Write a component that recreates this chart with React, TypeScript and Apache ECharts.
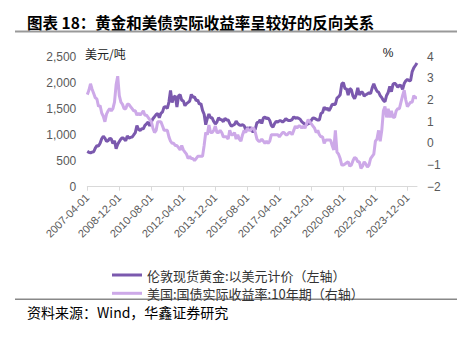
import React, { useEffect, useRef } from "react";
import * as echarts from "echarts";

// Monthly, 2007-04 … 2024-06
const startYear = 2007;
const startMonth = 4;

// 伦敦现货黄金:以美元计价 (USD/oz)
const goldPrice = [
  680, 660, 650, 665, 672, 743, 789, 783, 834,
  923, 971, 934, 871, 886, 930, 918, 833, 884, 730, 815, 869,
  919, 943, 917, 884, 975, 934, 949, 955, 996, 1040, 1176, 1104,
  1081, 1116, 1113, 1180, 1207, 1244, 1169, 1246, 1307, 1346, 1386, 1405,
  1327, 1411, 1439, 1535, 1536, 1505, 1628, 1850, 1620, 1722, 1746, 1531,
  1744, 1770, 1662, 1651, 1558, 1598, 1622, 1648, 1776, 1720, 1726, 1657,
  1664, 1588, 1598, 1469, 1394, 1192, 1314, 1396, 1326, 1324, 1253, 1205,
  1244, 1326, 1291, 1288, 1250, 1315, 1285, 1285, 1216, 1164, 1182, 1199,
  1260, 1214, 1187, 1180, 1191, 1172, 1098, 1135, 1115, 1142, 1061, 1060,
  1111, 1234, 1237, 1285, 1215, 1320, 1342, 1309, 1322, 1272, 1178, 1146,
  1212, 1255, 1244, 1266, 1266, 1243, 1268, 1311, 1283, 1271, 1275, 1291,
  1345, 1318, 1325, 1316, 1298, 1250, 1224, 1201, 1187, 1215, 1221, 1279,
  1321, 1316, 1295, 1283, 1283, 1409, 1427, 1528, 1485, 1511, 1463, 1515,
  1582, 1586, 1583, 1702, 1730, 1768, 1975, 2000, 1887, 1879, 1762, 1888,
  1863, 1743, 1691, 1768, 1903, 1763, 1814, 1814, 1743, 1769, 1785, 1806,
  1788, 1900, 1980, 1897, 1837, 1817, 1753, 1711, 1660, 1634, 1754, 1812,
  1928, 1827, 1969, 1990, 1962, 1912, 1951, 1942, 1871, 1983, 2036, 2062,
  2039, 2044, 2214, 2286, 2331, 2380,
];

// 美国:国债实际收益率:10年期 (%)
const realYield = [
  2.25, 2.45, 2.75, 2.5, 2.3, 2.1, 2.05, 1.7, 1.75,
  1.4, 1.25, 1.0, 1.35, 1.5, 1.6, 1.5, 1.6, 1.9, 2.7, 3.1, 2.2,
  1.9, 1.8, 1.6, 1.6, 1.8, 1.8, 1.7, 1.6, 1.5, 1.5, 1.3, 1.4,
  1.3, 1.4, 1.5, 1.3, 1.3, 1.2, 1.1, 1.0, 0.7, 0.5, 0.6, 1.0,
  1.0, 1.0, 0.8, 0.6, 0.6, 0.6, 0.3, 0.1, 0.0, 0.0, -0.1, -0.1,
  -0.2, -0.3, -0.1, -0.3, -0.4, -0.5, -0.7, -0.6, -0.7, -0.7, -0.8, -0.7,
  -0.6, -0.6, -0.6, -0.6, -0.1, 0.5, 0.4, 0.85, 0.5, 0.5, 0.6, 0.8,
  0.5, 0.5, 0.6, 0.5, 0.3, 0.3, 0.3, 0.2, 0.6, 0.4, 0.4, 0.5,
  0.2, 0.4, 0.2, 0.1, 0.4, 0.6, 0.5, 0.7, 0.6, 0.6, 0.7, 0.7,
  0.5, 0.2, 0.1, 0.1, 0.2, 0.1, 0.0, 0.1, 0.0, 0.1, 0.4, 0.4,
  0.4, 0.4, 0.4, 0.3, 0.4, 0.5, 0.5, 0.4, 0.4, 0.5, 0.5, 0.4,
  0.6, 0.8, 0.7, 0.8, 0.8, 0.7, 0.8, 0.7, 0.9, 1.1, 1.0, 0.9,
  0.8, 0.7, 0.5, 0.6, 0.4, 0.3, 0.3, 0.0, 0.15, 0.15, 0.15, 0.15,
  -0.1, -0.3, 0.6, -0.4, -0.5, -0.7, -1.0, -1.0, -0.95, -0.9, -0.85, -1.05,
  -1.0, -0.8, -0.65, -0.7, -0.85, -0.85, -1.15, -1.05, -0.85, -0.95, -1.1, -1.0,
  -0.7, -0.6, -0.5, 0.1, 0.2, 0.6, 0.1, 0.6, 1.5, 1.7, 1.2, 1.6,
  1.2, 1.5, 1.2, 1.2, 1.5, 1.6, 1.6, 1.9, 2.2, 2.45, 2.0, 1.7,
  1.8, 1.9, 1.9, 2.2, 2.1, 2.1,
];

const categories: string[] = [];
for (let i = 0; i < goldPrice.length; i++) {
  const m = startMonth - 1 + i;
  const y = startYear + Math.floor(m / 12);
  const mm = (m % 12) + 1;
  categories.push(`${y}-${mm < 10 ? "0" + mm : mm}-01`);
}

const seriesNames = ["伦敦现货黄金:以美元计价（左轴）", "美国:国债实际收益率:10年期（右轴）"];
const titleText = "图表 18：黄金和美债实际收益率呈较好的反向关系";
const sourceText = "资料来源：Wind，华鑫证券研究";
const leftUnit = "美元/吨";
const rightUnit = "%";

const DARK = "#7B59AE";
const LIGHT = "#CDA9E8";
const CJK = "'Noto Sans CJK SC', sans-serif";
const LATIN = "'Liberation Sans', Arial, sans-serif";

const legendBase = {
  orient: "vertical",
  left: 112,
  padding: 0,
  itemWidth: 30,
  itemHeight: 3,
  icon: "rect",
  textStyle: { color: "#333", fontSize: 13, lineHeight: 14, fontFamily: CJK },
};

export default function App() {
  const ref = useRef<HTMLDivElement>(null);
  useEffect(() => {
    if (!ref.current) return;
    const chart = echarts.init(ref.current, undefined, { renderer: "svg" });
    chart.setOption({
      animation: false,
      backgroundColor: "#ffffff",
      grid: { left: 87.3, right: 40, top: 56.7, bottom: 150.3, containLabel: false },
      xAxis: {
        type: "category",
        data: categories,
        boundaryGap: false,
        axisLine: { show: true, lineStyle: { color: "#D9D9D9", width: 1 } },
        axisTick: { show: true, interval: 19, length: 4, lineStyle: { color: "#D9D9D9" } },
        axisLabel: {
          interval: 19,
          rotate: 45,
          margin: 9,
          color: "#595959",
          fontSize: 11,
          fontFamily: LATIN,
        },
        splitLine: { show: false },
      },
      yAxis: [
        {
          type: "value",
          min: 0,
          max: 2500,
          interval: 500,
          axisLine: { show: false },
          axisTick: { show: false },
          splitLine: { show: false },
          axisLabel: {
            margin: 11,
            color: "#595959",
            fontSize: 12,
            fontFamily: LATIN,
            formatter: (v: number) => v.toLocaleString("en-US"),
          },
        },
        {
          type: "value",
          min: -2,
          max: 4,
          interval: 1,
          position: "right",
          axisLine: { show: false },
          axisTick: { show: false },
          splitLine: { show: false },
          axisLabel: {
            margin: 10,
            color: "#595959",
            fontSize: 12,
            fontFamily: LATIN,
            formatter: (v: number) => String(v).replace("-", "−"),
          },
        },
      ],
      legend: [
        { ...legendBase, top: 268, data: [seriesNames[0]] },
        { ...legendBase, top: 286.3, data: [seriesNames[1]] },
      ],
      series: [
        {
          name: seriesNames[0],
          type: "line",
          yAxisIndex: 0,
          data: goldPrice,
          showSymbol: false,
          symbol: "none",
          lineStyle: { color: DARK, width: 3 },
          itemStyle: { color: DARK },
        },
        {
          name: seriesNames[1],
          type: "line",
          yAxisIndex: 1,
          data: realYield,
          showSymbol: false,
          symbol: "none",
          lineStyle: { color: LIGHT, width: 3 },
          itemStyle: { color: LIGHT },
        },
      ],
      graphic: [
        {
          type: "text",
          x: 27,
          y: 21.5,
          style: {
            text: titleText,
            fontSize: 15.5,
            fontWeight: "bold",
            fontFamily: CJK,
            fill: "#000",
            align: "left",
            verticalAlign: "middle",
          },
        },
        {
          type: "rect",
          shape: { x: 15, y: 30.5, width: 442, height: 2 },
          style: { fill: "#999" },
        },
        {
          type: "text",
          x: 85,
          y: 53,
          style: {
            text: leftUnit,
            fontSize: 12,
            fontFamily: CJK,
            fill: "#222",
            align: "left",
            verticalAlign: "middle",
          },
        },
        {
          type: "text",
          x: 388,
          y: 53,
          style: {
            text: rightUnit,
            fontSize: 12,
            fontFamily: LATIN,
            fill: "#222",
            align: "center",
            verticalAlign: "middle",
          },
        },
        {
          type: "rect",
          shape: { x: 15, y: 298.5, width: 442, height: 1.5 },
          style: { fill: "#888" },
        },
        {
          type: "text",
          x: 27,
          y: 312,
          style: {
            text: sourceText,
            fontSize: 14,
            fontFamily: CJK,
            fill: "#000",
            align: "left",
            verticalAlign: "middle",
          },
        },
      ],
    });
    return () => chart.dispose();
  }, []);
  return (
    <div
      ref={ref}
      style={{ position: "fixed", left: 0, top: 0, width: 457, height: 337 }}
    />
  );
}
